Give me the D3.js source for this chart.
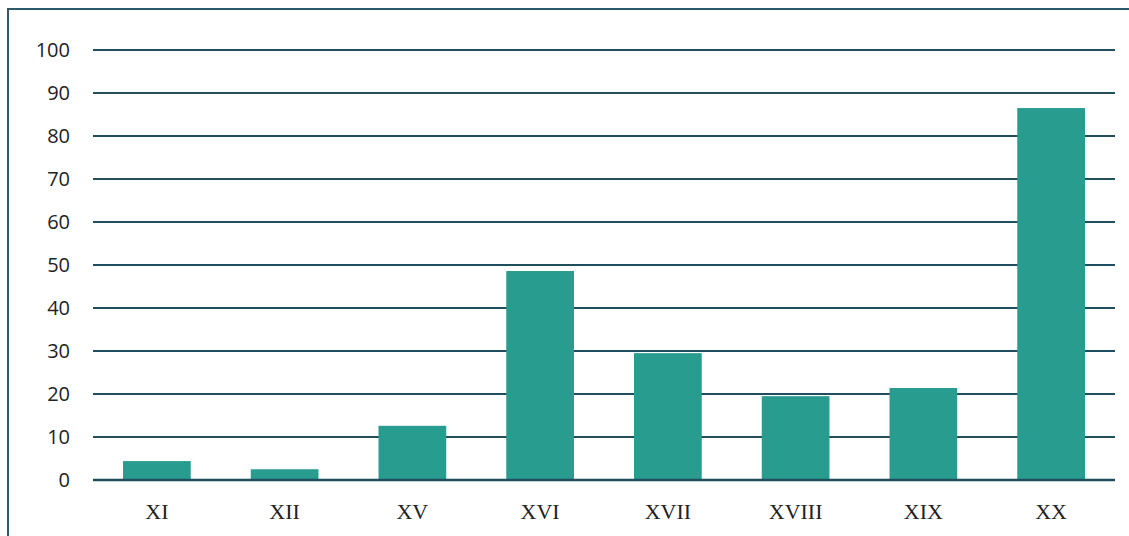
<!DOCTYPE html>
<html>
<head>
<meta charset="utf-8">
<script src="https://cdn.jsdelivr.net/npm/d3@7"></script>
<style>
	body { margin: 0; background: #fff; }
	svg { display: block; }
</style>
</head>
<body>
<svg id="viz"></svg>
<script>
// centuries and their values
const centuries = ["XI", "XII", "XV", "XVI", "XVII", "XVIII", "XIX", "XX"];
const counts = [4.4, 2.5, 12.6, 48.6, 29.5, 19.5, 21.4, 86.5];
const yTicks = [0, 10, 20, 30, 40, 50, 60, 70, 80, 90, 100];

const width = 1129;
const height = 536;

const margin = {
	top: 50,
	right: 14,
	bottom: 56,
	left: 93
};

const plotWidth = width - margin.left - margin.right;
const plotHeight = height - margin.top - margin.bottom;

const svg = d3.select("svg#viz")
	.attr("width", width)
	.attr("height", height);

// outer frame, runs off the right and bottom edges
svg.append("rect")
	.attr("x", 8)
	.attr("y", 9)
	.attr("width", width + 20)
	.attr("height", height + 20)
	.attr("fill", "none")
	.attr("stroke", "#2c5a68")
	.attr("stroke-width", 2);

const plot = svg.append("g")
	.attr("transform", translate(margin.left, margin.top));

const x = d3.scaleBand()
	.domain(centuries)
	.range([0, plotWidth])
	.paddingInner(0.47)
	.paddingOuter(0.235);

const y = d3.scaleLinear()
	.domain([0, 100])
	.range([plotHeight, 0]);

// grid
plot.append("g")
	.selectAll("line")
	.data(yTicks.filter(d => d > 0))
	.join("line")
	.attr("x1", 0)
	.attr("x2", plotWidth)
	.attr("y1", d => y(d))
	.attr("y2", d => y(d))
	.attr("stroke", "#1f4e5c")
	.attr("stroke-width", 2);

// bars
plot.append("g")
	.selectAll("rect")
	.data(centuries)
	.join("rect")
	.attr("x", d => x(d))
	.attr("width", x.bandwidth())
	.attr("y", (d, i) => y(counts[i]))
	.attr("height", (d, i) => y(0) - y(counts[i]))
	.attr("fill", "#279c8f");

// baseline on top of the bars
plot.append("line")
	.attr("x1", 0)
	.attr("x2", plotWidth)
	.attr("y1", y(0))
	.attr("y2", y(0))
	.attr("stroke", "#1f4e5c")
	.attr("stroke-width", 2.5);

// y labels
const yAxis = d3.axisLeft(y)
	.tickValues(yTicks)
	.tickSize(0)
	.tickPadding(23);

plot.append("g")
	.call(yAxis)
	.call(g => g.select(".domain").remove())
	.selectAll("text")
	.attr("font-family", "'Open Sans', 'Liberation Sans', sans-serif")
	.attr("font-size", 20)
	.attr("fill", "#222");

// x labels
const xAxis = d3.axisBottom(x)
	.tickSize(0)
	.tickPadding(23);

plot.append("g")
	.attr("transform", translate(0, plotHeight))
	.call(xAxis)
	.call(g => g.select(".domain").remove())
	.selectAll("text")
	.attr("font-family", "'Liberation Serif', 'DejaVu Serif', serif")
	.attr("font-size", 22)
	.attr("fill", "#222");

function translate(x, y) {
	return "translate(" + x + "," + y + ")";
}
</script>
</body>
</html>
